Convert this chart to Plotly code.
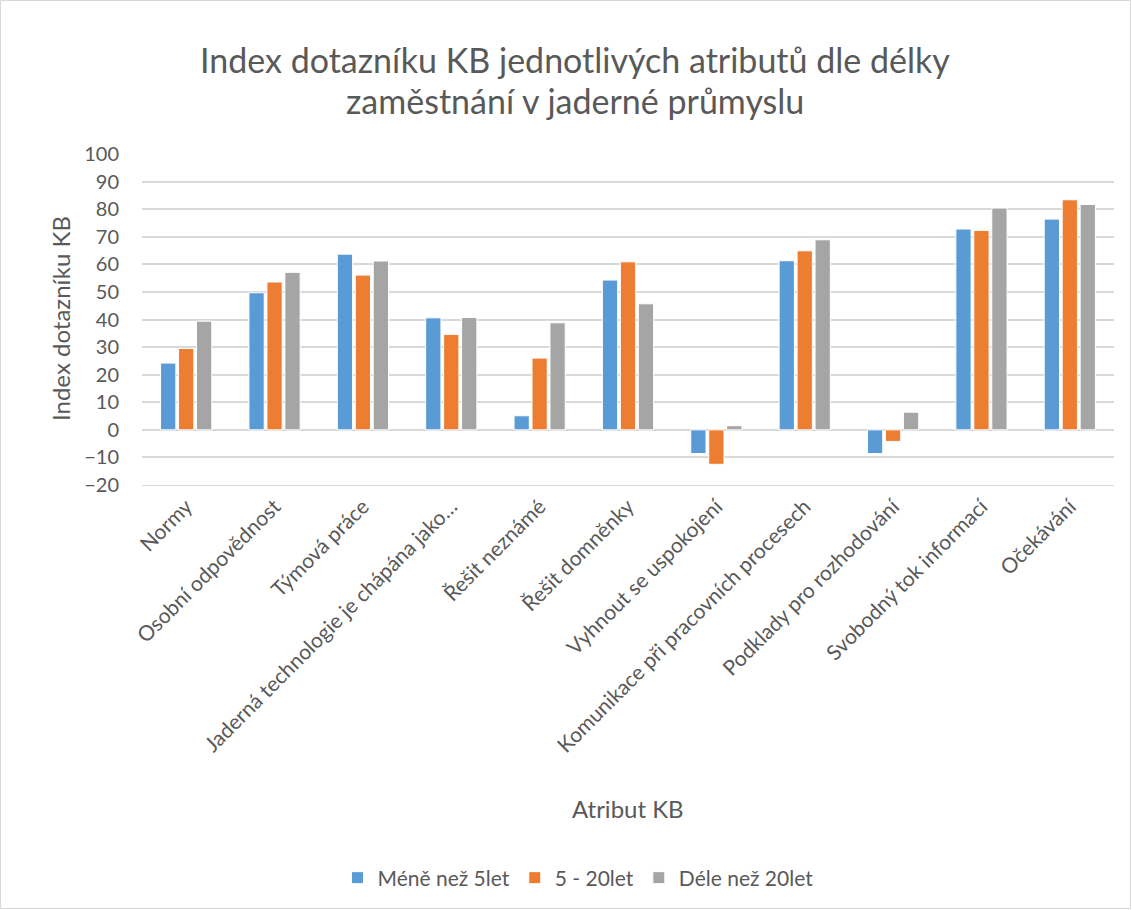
import plotly.graph_objects as go

categories = ["Normy", "Osobní odpovědnost", "Týmová práce",
              "Jaderná technologie je chápána jako…", "Řešit neznámé",
              "Řešit domněnky", "Vyhnout se uspokojení",
              "Komunikace při pracovních procesech", "Podklady pro rozhodování",
              "Svobodný tok informací", "Očekávání"]
series_names = ["Méně než 5let", "5 - 20let", "Déle než 20let"]
mene_5 = [24.2, 49.7, 63.7, 40.6, 5.1, 54.3, -8.6, 61.3, -8.6, 72.8, 76.4]
od_5_20 = [29.5, 53.6, 56.1, 34.6, 26.0, 60.9, -12.5, 64.9, -4.2, 72.3, 83.4]
dele_20 = [39.4, 57.1, 61.2, 40.7, 38.8, 45.7, 1.5, 68.9, 6.4, 80.4, 81.7]
colors = ["#5B9BD5", "#ED7D31", "#A5A5A5"]
y_ticks = [-20, -10, 0, 10, 20, 30, 40, 50, 60, 70, 80, 90, 100]
title_lines = ["Index dotazníku KB jednotlivých atributů dle délky",
               "zaměstnání v jaderné průmyslu"]

FONT = "Lato"
TXT = "#595959"

fig = go.Figure()
for name, vals, col in zip(series_names, [mene_5, od_5_20, dele_20], colors):
    fig.add_trace(go.Bar(x=categories, y=vals, name=name,
                         marker=dict(color=col, line=dict(color="white", width=1))))

W, H = 1132, 910
ml, mr, mt, mb = 142, 18, 154, 425
pw, ph = W - ml - mr, H - mt - mb


def py(pix):
    """page y pixel -> paper y"""
    return (H - mb - pix) / ph


def px(pix):
    return (pix - ml) / pw


fig.update_layout(
    width=W, height=H,
    margin=dict(l=ml, r=mr, t=mt, b=mb),
    paper_bgcolor="white", plot_bgcolor="white",
    font=dict(family=FONT, color=TXT, size=20),
    barmode="group", bargap=0.39, bargroupgap=0.15,
    showlegend=True,
    legend=dict(orientation="h", x=px(578), xanchor="center",
                y=py(878), yanchor="middle",
                font=dict(size=21, color=TXT), itemwidth=30,
                traceorder="normal"),
    xaxis=dict(tickangle=-45, tickfont=dict(size=21, color=TXT),
               showline=True, linecolor="#d9d9d9", ticks=""),
    yaxis=dict(range=[-20, 100], tickvals=y_ticks, showgrid=True,
               gridcolor="#d9d9d9", gridwidth=1.5, zeroline=True,
               zerolinecolor="#d9d9d9", zerolinewidth=1.5,
               tickfont=dict(size=20, color=TXT), ticks="",
               ticklabelstandoff=22),
    shapes=[dict(type="rect", xref="paper", yref="paper",
                 x0=px(0.5), x1=px(W - 1.5),
                 y0=py(H - 1.5), y1=py(0.5),
                 line=dict(color="#d9d9d9", width=1))],
)

fig.add_annotation(text=title_lines[0], xref="paper", yref="paper",
                   x=px(575), y=py(60), xanchor="center", yanchor="middle",
                   showarrow=False, font=dict(size=34, color=TXT, family=FONT))
fig.add_annotation(text=title_lines[1], xref="paper", yref="paper",
                   x=px(575), y=py(101), xanchor="center", yanchor="middle",
                   showarrow=False, font=dict(size=34, color=TXT, family=FONT))
fig.add_annotation(text="Atribut KB", xref="paper", yref="paper",
                   x=0.5, y=py(808), xanchor="center", yanchor="middle",
                   showarrow=False, font=dict(size=24, color=TXT, family=FONT))
fig.add_annotation(text="Index dotazníku KB", xref="paper", yref="paper",
                   x=px(60), y=py(319), xanchor="center", yanchor="middle",
                   textangle=-90, showarrow=False,
                   font=dict(size=24, color=TXT, family=FONT))

fig.write_html("out.html", config={"displayModeBar": False},
               post_script="document.body.style.margin='0';")
